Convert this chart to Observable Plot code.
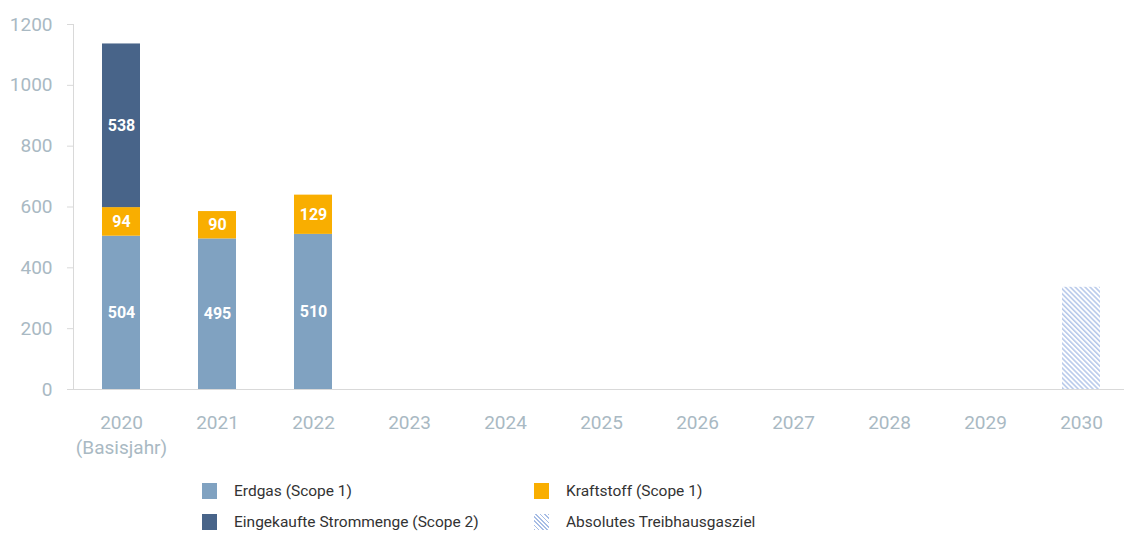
<!DOCTYPE html>
<html>
<head>
<meta charset="utf-8">
<script src="https://cdn.jsdelivr.net/npm/d3@7"></script>
<script src="https://cdn.jsdelivr.net/npm/@observablehq/plot@0.6"></script>
<style>
  body { margin: 0; background: #fff; font-family: Roboto, sans-serif; }
  #chart { width: 1124px; }
  .legend { display: grid; grid-template-columns: 332px auto; padding-left: 202px; padding-top: 10px; grid-auto-rows: 31px; }
  .item { display: flex; align-items: center; font-size: 15.5px; color: #333; }
  .sw { width: 15px; height: 16px; margin-right: 17px; flex: none; }
</style>
</head>
<body>
<div id="chart"></div>
<script>
const years = ["2020","2021","2022","2023","2024","2025","2026","2027","2028","2029","2030"];
const seriesNames = ["Erdgas (Scope 1)", "Kraftstoff (Scope 1)", "Eingekaufte Strommenge (Scope 2)"];
const seriesColors = ["#80a2c1", "#f9ae00", "#486489"];
const erdgasYears = ["2020","2021","2022"];
const erdgas = [504, 495, 510];
const kraftstoffYears = ["2020","2021","2022"];
const kraftstoff = [94, 90, 129];
const stromYears = ["2020"];
const strom = [538];
const targetYears = ["2030"];
const target = [336];
const targetName = "Absolutes Treibhausgasziel";
const yTicks = [0, 200, 400, 600, 800, 1000, 1200];

const data = [];
erdgasYears.forEach((y, i) => data.push({year: y, series: seriesNames[0], value: erdgas[i]}));
kraftstoffYears.forEach((y, i) => data.push({year: y, series: seriesNames[1], value: kraftstoff[i]}));
stromYears.forEach((y, i) => data.push({year: y, series: seriesNames[2], value: strom[i]}));
const targetData = targetYears.map((y, i) => ({year: y, value: target[i]}));

const axisColor = "#d9d9d9";
const tickText = "#a9b9c3";

const plot = Plot.plot({
  width: 1124,
  height: 465,
  marginLeft: 73,
  marginRight: 0,
  marginTop: 24,
  marginBottom: 76,
  style: {fontFamily: "Roboto, sans-serif", background: "#fff"},
  x: {domain: years, range: [73, 1130], paddingInner: 0.6, paddingOuter: 0.3, axis: null},
  y: {domain: [0, 1200], axis: null},
  color: {domain: seriesNames, range: seriesColors},
  marks: [
    Plot.frame({anchor: "left", stroke: axisColor}),
    Plot.ruleY([0], {stroke: axisColor}),
    Plot.axisY({ticks: yTicks, tickFormat: d => String(d), tickSize: 6, tickPadding: 15, stroke: axisColor, fill: tickText, fontSize: 19, label: null}),
    Plot.axisX({tickSize: 0, tickPadding: 22, fill: tickText, fontSize: 19, lineHeight: 1.32, label: null,
      tickFormat: d => d === "2020" ? "2020\n(Basisjahr)" : d}),
    Plot.barY(data, {x: "year", y: "value", fill: "series"}),
    Plot.barY(targetData, {x: "year", y: "value", fill: "url(#hatch)"}),
    Plot.text(data, Plot.stackY({x: "year", y: "value", text: d => String(d.value), fill: "white", fontWeight: "bold", fontSize: 16}))
  ]
});

const svg = d3.select(plot);
const defs = svg.insert("defs", ":first-child");
const pat = defs.append("pattern").attr("id", "hatch").attr("patternUnits", "userSpaceOnUse")
  .attr("width", 3.5).attr("height", 3.5).attr("patternTransform", "rotate(-45)");
pat.append("rect").attr("width", 3.5).attr("height", 3.5).attr("fill", "#ffffff");
pat.append("line").attr("x1", 0.8).attr("y1", 0).attr("x2", 0.8).attr("y2", 3.5).attr("stroke", "#a7bde5").attr("stroke-width", 1.3);

document.getElementById("chart").appendChild(plot);

const legend = document.createElement("div");
legend.className = "legend";
const items = [
  {name: seriesNames[0], bg: seriesColors[0]},
  {name: seriesNames[1], bg: seriesColors[1]},
  {name: seriesNames[2], bg: seriesColors[2]},
  {name: targetName, bg: "repeating-linear-gradient(45deg, #a7bde5 0px, #a7bde5 1.2px, #ffffff 1.2px, #ffffff 3px)"}
];
items.forEach(it => {
  const d = document.createElement("div");
  d.className = "item";
  const s = document.createElement("span");
  s.className = "sw";
  s.style.background = it.bg;
  const t = document.createElement("span");
  t.textContent = it.name;
  d.appendChild(s); d.appendChild(t);
  legend.appendChild(d);
});
document.getElementById("chart").appendChild(legend);
</script>
</body>
</html>
